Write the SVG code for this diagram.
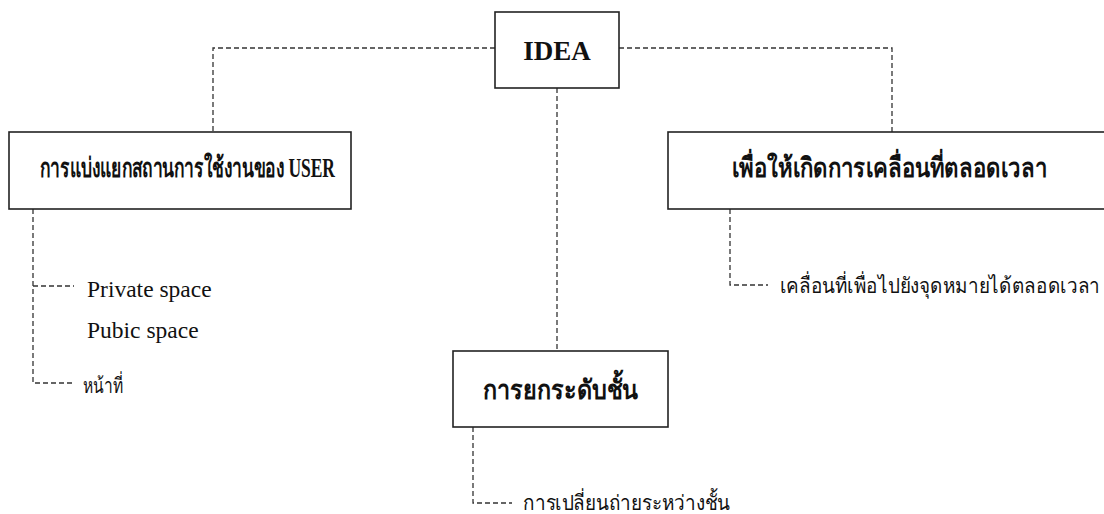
<svg xmlns="http://www.w3.org/2000/svg" width="1104" height="514" viewBox="0 0 1104 514">
<style>
.box{fill:#fff;stroke:#222;stroke-width:1.6}
.dash{fill:none;stroke:#333;stroke-width:1.3;stroke-dasharray:5 3}
.title{font-family:"Liberation Serif","Noto Sans",serif;font-weight:bold;fill:#111}
.th{font-family:"Liberation Serif","Noto Sans",sans-serif;fill:#111}
.en{font-family:"Liberation Serif",serif;fill:#111}
</style>
<rect width="1104" height="514" fill="#fff"/>
<g id="connectors">
<polyline class="dash" points="495,48 213,48 213,132"/>
<polyline class="dash" points="619,48 892,48 892,132"/>
<line class="dash" x1="557" y1="88" x2="557" y2="351"/>
<polyline class="dash" points="33,209 33,383 74,383"/>
<line class="dash" x1="33" y1="286" x2="74" y2="286"/>
<polyline class="dash" points="730,209 730,285 768,285"/>
<polyline class="dash" points="473,427 473,503 512,503"/>
</g>
<g id="idea">
<rect class="box" x="495" y="12" width="124" height="76"/>
<text class="title" x="557" y="60" font-size="27" text-anchor="middle">IDEA</text>
</g>
<g id="user">
<rect class="box" x="9" y="132" width="342" height="77"/>
<text class="title" x="40" y="177" font-size="27" textLength="295" lengthAdjust="spacingAndGlyphs">การแบ่งแยกสถานการใช้งานของ USER</text>
</g>
<g id="move">
<rect class="box" x="668" y="132" width="440" height="77"/>
<text class="title" x="732" y="177" font-size="27" textLength="315" lengthAdjust="spacingAndGlyphs">เพื่อให้เกิดการเคลื่อนที่ตลอดเวลา</text>
</g>
<g id="level">
<rect class="box" x="453" y="351" width="215" height="76"/>
<text class="title" x="483" y="399" font-size="27" textLength="155" lengthAdjust="spacingAndGlyphs">การยกระดับชั้น</text>
</g>
<g id="user-items">
<text class="en" x="87" y="297" font-size="23.5">Private space</text>
<text class="en" x="87" y="338" font-size="23.5">Pubic space</text>
<text class="th" x="83" y="393" font-size="21" textLength="40" lengthAdjust="spacingAndGlyphs">หน้าที่</text>
</g>
<g id="move-items">
<text class="th" x="780" y="293" font-size="21" textLength="320" lengthAdjust="spacingAndGlyphs">เคลื่อนที่เพื่อไปยังจุดหมายได้ตลอดเวลา</text>
</g>
<g id="level-items">
<text class="th" x="523" y="510" font-size="21" textLength="207" lengthAdjust="spacingAndGlyphs">การเปลี่ยนถ่ายระหว่างชั้น</text>
</g>
</svg>
